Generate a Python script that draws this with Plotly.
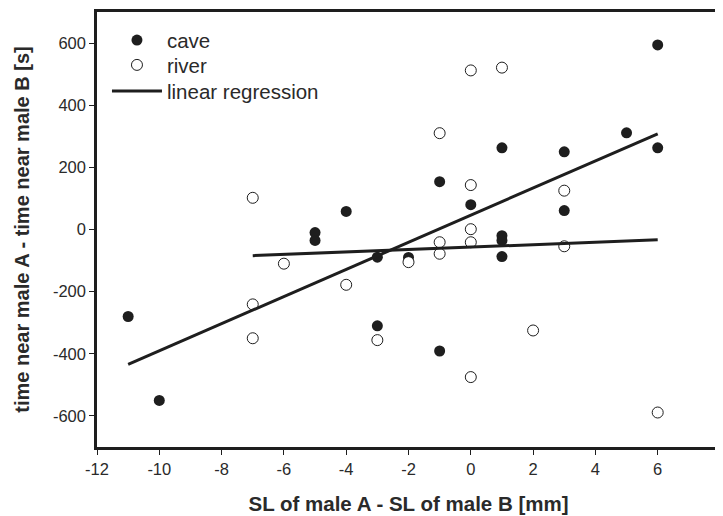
import numpy as np
import plotly.graph_objects as go

# cave fish pairs: SL difference [mm] vs time difference [s]
cave_x = [-11, -10, -5, -5, -4, -3, -3, -2, -1, -1, 0, 1, 1, 1, 1, 3, 3, 5, 6, 6]
cave_y = [-280, -550, -10, -35, 58, -89, -310, -90, 154, -391, 80, 263, -20, -35, -87, 250, 61, 311, 594, 263]

# river fish pairs
river_x = [-7, -7, -7, -6, -4, -3, -2, -1, -1, -1, 0, 0, 0, 0, 0, 1, 2, 3, 3, 6]
river_y = [102, -241, -350, -110, -178, -356, -105, 310, -41, -78, 512, 143, 1, -41, -475, 521, -325, 125, -54, -589]

x_ticks = [-12, -10, -8, -6, -4, -2, 0, 2, 4, 6, 8]
y_ticks = [-600, -400, -200, 0, 200, 400, 600]


def fit_line(x, y):
    # least squares line over the range of the group
    k, d = np.polyfit(x, y, 1)
    xs = np.array([min(x), max(x)])
    return xs, k * xs + d


FONT = "Liberation Sans, Arial, sans-serif"
INK = "#1e1e1e"
TXT = "#2a2a2a"

fig = go.Figure()

fig.add_trace(go.Scatter(
    x=cave_x, y=cave_y, mode="markers", name="cave", legend="legend",
    marker=dict(symbol="circle", size=11, color=INK, line=dict(width=0))
))
fig.add_trace(go.Scatter(
    x=river_x, y=river_y, mode="markers", name="river", legend="legend2",
    marker=dict(symbol="circle", size=11, color="white", line=dict(width=1, color=INK))
))

cx, cy = fit_line(cave_x, cave_y)
rx, ry = fit_line(river_x, river_y)
fig.add_trace(go.Scatter(
    x=cx, y=cy, mode="lines", name="linear regression", legend="legend3",
    line=dict(color=INK, width=3)
))
fig.add_trace(go.Scatter(
    x=rx, y=ry, mode="lines", showlegend=False,
    line=dict(color=INK, width=3)
))

axis_common = dict(
    showgrid=False, zeroline=False, automargin=False,
    showline=True, linewidth=2.5, linecolor=INK, mirror=True,
    ticks="outside", ticklen=5, tickwidth=1, tickcolor=INK,
    tickfont=dict(family=FONT, size=16.5, color=TXT),
    ticklabeloverflow="allow",
)

# one legend per row so the rows sit closer than plotly's default spacing
legend_common = dict(
    x=0.016, xanchor="left", yanchor="middle",
    font=dict(family=FONT, size=20.5, color=TXT),
    bgcolor="rgba(0,0,0,0)", itemwidth=50,
)

# page body has an 8px margin, so the figure is 8px smaller than the window
fig.update_layout(
    width=715, height=508,
    paper_bgcolor="white", plot_bgcolor="white",
    margin=dict(l=89, r=3, t=4, b=69),
    font=dict(family=FONT, color=INK),
    xaxis=dict(range=[-12, 8], tickvals=x_ticks,
               ticktext=[str(v) for v in x_ticks],
               title=dict(text="<b>SL of male A - SL of male B [mm]</b>",
                          font=dict(family=FONT, size=20.5, color=TXT), standoff=21),
               **axis_common),
    yaxis=dict(range=[-700, 700], tickvals=y_ticks,
               ticktext=[str(v) for v in y_ticks],
               title=dict(text="<b>time near male A - time near male B [s]</b>",
                          font=dict(family=FONT, size=20, color=TXT), standoff=18),
               **axis_common),
    legend=dict(y=0.935, **legend_common),
    legend2=dict(y=0.878, **legend_common),
    legend3=dict(y=0.818, **legend_common),
    showlegend=True,
)

fig.write_html("out.html")
